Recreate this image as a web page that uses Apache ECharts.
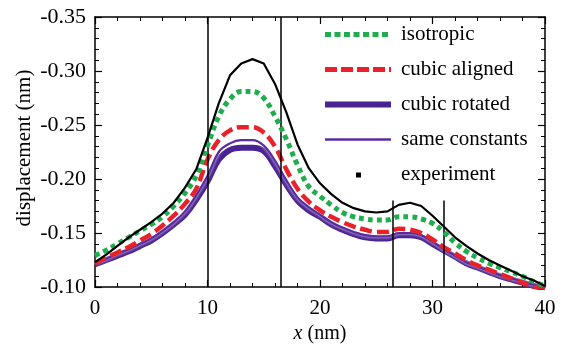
<!DOCTYPE html>
<html>
<head>
<meta charset="utf-8">
<script src="https://cdn.jsdelivr.net/npm/echarts@6/dist/echarts.min.js"></script>
<style>
  html, body { margin: 0; padding: 0; background: #fff; }
  #chart { width: 564px; height: 345px; }
</style>
</head>
<body>
<div id="chart"></div>
<script>
// x positions (nm) shared by all curves
const xs = [0, 1, 2, 3, 4, 5, 6, 7, 8, 9, 10, 11, 12, 13, 14, 15, 16, 17, 18, 19, 20,
  21, 22, 23, 24, 25, 26, 27, 28, 29, 30, 31, 32, 33, 34, 35, 36, 37, 38, 39, 40];

const isotropic = [-0.129, -0.134, -0.140, -0.146, -0.152, -0.158, -0.165, -0.175, -0.187, -0.203,
  -0.231, -0.258, -0.274, -0.281, -0.281, -0.275, -0.258, -0.237, -0.213, -0.193,
  -0.184, -0.176, -0.169, -0.165, -0.163, -0.162, -0.162, -0.165, -0.165, -0.163,
  -0.159, -0.151, -0.141, -0.133, -0.127, -0.122, -0.118, -0.114, -0.110, -0.105, -0.101];

const cubicAligned = [-0.122, -0.127, -0.132, -0.137, -0.143, -0.149, -0.157, -0.166, -0.177, -0.191,
  -0.218, -0.236, -0.245, -0.248, -0.248, -0.243, -0.230, -0.209, -0.191, -0.179,
  -0.171, -0.165, -0.160, -0.156, -0.153, -0.151, -0.151, -0.154, -0.153, -0.150,
  -0.144, -0.137, -0.131, -0.125, -0.120, -0.116, -0.112, -0.108, -0.104, -0.100, -0.098];

const cubicRotated = [-0.121, -0.125, -0.129, -0.133, -0.138, -0.143, -0.150, -0.158, -0.167, -0.181,
  -0.198, -0.218, -0.227, -0.229, -0.229, -0.226, -0.212, -0.195, -0.180, -0.171,
  -0.165, -0.158, -0.153, -0.149, -0.146, -0.145, -0.145, -0.148, -0.148, -0.146,
  -0.140, -0.134, -0.128, -0.122, -0.118, -0.114, -0.110, -0.107, -0.104, -0.101, -0.099];

const sameConstants = [-0.122, -0.126, -0.131, -0.135, -0.140, -0.145, -0.152, -0.160, -0.170, -0.185,
  -0.203, -0.225, -0.233, -0.236, -0.236, -0.231, -0.217, -0.199, -0.183, -0.174,
  -0.167, -0.160, -0.155, -0.151, -0.148, -0.147, -0.147, -0.150, -0.150, -0.148,
  -0.142, -0.135, -0.129, -0.123, -0.119, -0.115, -0.111, -0.108, -0.105, -0.102, -0.100];

const experiment = [-0.123, -0.130, -0.138, -0.146, -0.153, -0.160, -0.168, -0.178, -0.192, -0.209,
  -0.238, -0.270, -0.296, -0.307, -0.311, -0.307, -0.288, -0.262, -0.232, -0.210,
  -0.196, -0.186, -0.178, -0.173, -0.170, -0.169, -0.170, -0.176, -0.178, -0.175,
  -0.166, -0.156, -0.146, -0.138, -0.131, -0.125, -0.120, -0.115, -0.110, -0.106, -0.101];

// vertical marker lines: full height ones and short ones (x, top y)
const fullMarkers = [10, 16.5];
const shortMarkers = [26.5, 31];
const shortMarkerTop = -0.18;

const yTicks = { min: -0.35, max: -0.10, step: 0.05 };
const xTicks = { min: 0, max: 40, step: 10 };

const font = "Liberation Serif";

const GREEN = "#1fae4e", RED = "#e8212b", PURPLE = "#4a2392", PURPLE_THIN = "#5a2ca0";

function pairs(ys) {
  return xs.map((x, i) => [x, ys[i]]);
}

const chart = echarts.init(document.getElementById("chart"), null, { renderer: "canvas" });

const baseAxis = {
  axisLine: { show: true, onZero: false, lineStyle: { color: "#000", width: 1.5 } },
  axisTick: { show: true, inside: true, length: 7, lineStyle: { color: "#000", width: 1.2 } },
  minorTick: { show: true, splitNumber: 5, length: 4, lineStyle: { color: "#000", width: 1 } },
  splitLine: { show: false },
};

const markLines = fullMarkers.map(x => ({ xAxis: x }))
  .concat(shortMarkers.map(x => [{ coord: [x, shortMarkerTop] }, { coord: [x, yTicks.max] }]));

const hidden = { opacity: 0 };

const option = {
  backgroundColor: "#fff",
  animation: false,
  textStyle: { fontFamily: font, color: "#000" },
  grid: { left: 95, right: 19, top: 17, bottom: 58, containLabel: false, outerBoundsMode: "none" },
  // y axis title, placed by hand so it sits where the original has it
  graphic: [{
    type: "text",
    x: 24, y: 148,
    rotation: Math.PI / 2,
    style: {
      text: "displacement (nm)",
      font: "21px 'Liberation Serif'",
      fill: "#000",
      align: "center",
      verticalAlign: "middle",
    },
  }],
  legend: {
    orient: "vertical",
    left: 317,
    top: 19,
    itemWidth: 66,
    itemHeight: 14,
    itemGap: 14,
    itemStyle: hidden,
    textStyle: { fontFamily: font, fontSize: 21, color: "#000", padding: [0, 0, 0, 5] },
    data: [
      { name: "isotropic", itemStyle: hidden, lineStyle: { color: GREEN, width: 5, type: [6, 3.5] } },
      { name: "cubic aligned", itemStyle: hidden, lineStyle: { color: RED, width: 5, type: [12, 4] } },
      { name: "cubic rotated", itemStyle: hidden, lineStyle: { color: PURPLE, width: 6, type: "solid" } },
      { name: "same constants", itemStyle: hidden, lineStyle: { color: PURPLE_THIN, width: 2.5, type: "solid" } },
      {
        name: "experiment", icon: "path://M0,0M66,14M31,5h5v5h-5z",
        itemStyle: { color: "#000", opacity: 1 }, lineStyle: { opacity: 0 },
      },
    ],
  },
  xAxis: [
    {
      ...baseAxis,
      type: "value",
      min: xTicks.min, max: xTicks.max, interval: xTicks.step,
      axisLabel: { color: "#000", fontFamily: font, fontSize: 21, margin: 11 },
      name: "{i|x} (nm)",
      nameLocation: "middle",
      nameGap: 37,
      nameTextStyle: {
        fontFamily: font, fontSize: 20, color: "#000",
        rich: { i: { fontFamily: font, fontSize: 20, fontStyle: "italic", color: "#000" } },
      },
    },
    {
      ...baseAxis,
      type: "value", position: "top",
      min: xTicks.min, max: xTicks.max, interval: xTicks.step,
      axisLabel: { show: false },
    },
  ],
  yAxis: [
    {
      ...baseAxis,
      type: "value", inverse: true,
      min: yTicks.min, max: yTicks.max, interval: yTicks.step,
      axisLabel: { color: "#000", fontFamily: font, fontSize: 22, margin: 9, formatter: v => v.toFixed(2) },
    },
    {
      ...baseAxis,
      type: "value", inverse: true, position: "right",
      min: yTicks.min, max: yTicks.max, interval: yTicks.step,
      axisLabel: { show: false },
    },
  ],
  series: [
    {
      name: "cubic rotated", type: "line", data: pairs(cubicRotated),
      showSymbol: false, symbol: "none", smooth: 0.4,
      lineStyle: { color: PURPLE, width: 6 },
      itemStyle: { color: PURPLE },
      z: 2,
    },
    {
      name: "same constants", type: "line", data: pairs(sameConstants),
      showSymbol: false, symbol: "none", smooth: 0.4,
      lineStyle: { color: PURPLE_THIN, width: 2.2, shadowColor: "#fff", shadowBlur: 3 },
      itemStyle: { color: PURPLE_THIN },
      z: 3,
    },
    {
      name: "cubic aligned", type: "line", data: pairs(cubicAligned),
      showSymbol: false, symbol: "none", smooth: 0.4,
      lineStyle: { color: RED, width: 4.5, type: [12, 5] },
      itemStyle: { color: RED },
      z: 4,
    },
    {
      name: "isotropic", type: "line", data: pairs(isotropic),
      showSymbol: false, symbol: "none", smooth: 0.4,
      lineStyle: { color: GREEN, width: 5, type: [5, 4] },
      itemStyle: { color: GREEN },
      z: 5,
    },
    {
      name: "experiment", type: "line", data: pairs(experiment),
      showSymbol: false, symbol: "none",
      lineStyle: { color: "#000", width: 2.2 },
      itemStyle: { color: "#000" },
      z: 6,
      markLine: {
        silent: true, symbol: "none", animation: false,
        label: { show: false },
        lineStyle: { color: "#000", width: 1.5, type: "solid" },
        data: markLines,
      },
    },
  ],
};

chart.setOption(option);
</script>
</body>
</html>
